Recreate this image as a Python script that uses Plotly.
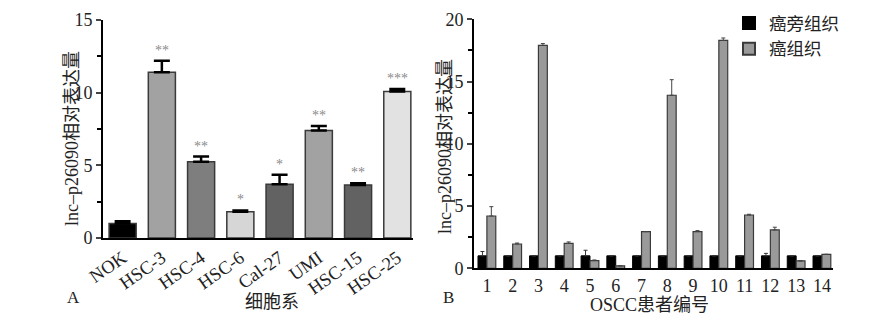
import plotly.graph_objects as go

# ---- Panel A data ----
cells = ["NOK", "HSC-3", "HSC-4", "HSC-6", "Cal-27", "UMI", "HSC-15", "HSC-25"]
cell_vals = [1.0, 11.4, 5.25, 1.8, 3.7, 7.4, 3.65, 10.08]
cell_errs = [0.15, 0.8, 0.35, 0.1, 0.65, 0.3, 0.12, 0.18]
cell_sig = ["", "**", "**", "*", "*", "**", "**", "***"]
cell_colors = ["#000000", "#a2a2a2", "#7e7e7e", "#d6d6d6", "#626262", "#a2a2a2", "#626262", "#e2e2e2"]

# ---- Panel B data ----
patients = [str(i) for i in range(1, 15)]
adjacent = [1.0] * 14
adjacent_err = [0.35, 0, 0, 0, 0.45, 0, 0, 0, 0, 0, 0, 0.2, 0, 0]
tumor = [4.2, 1.95, 17.9, 2.0, 0.62, 0.2, 2.95, 13.9, 2.95, 18.3, 4.28, 3.08, 0.6, 1.12]
tumor_err = [0.75, 0.08, 0.15, 0.12, 0.05, 0, 0, 1.25, 0.08, 0.2, 0.06, 0.22, 0, 0]

W, H = 892, 318
SERIF = "Liberation Serif, Times New Roman, Noto Sans CJK SC"

def px_x(p):
    return p / W

def px_y(p):
    return 1 - p / H

fig = go.Figure()

fig.add_trace(go.Bar(
    x=cells, y=cell_vals, xaxis="x", yaxis="y",
    marker=dict(color=cell_colors, line=dict(color="#3a3a3a", width=1.5)),
    error_y=dict(type="data", array=cell_errs, arrayminus=[0] * len(cell_errs),
                 symmetric=False, color="#000000", thickness=2.5, width=8),
    showlegend=False,
))

fig.add_trace(go.Bar(
    x=patients, y=adjacent, xaxis="x2", yaxis="y2", name="癌旁组织",
    marker=dict(color="#000000", line=dict(color="#000000", width=1)),
    error_y=dict(type="data", array=adjacent_err, arrayminus=[0] * 14,
                 symmetric=False, color="#333333", thickness=1, width=2),
))
fig.add_trace(go.Bar(
    x=patients, y=tumor, xaxis="x2", yaxis="y2", name="癌组织",
    marker=dict(color="#9a9a9a", line=dict(color="#3a3a3a", width=1.2)),
    error_y=dict(type="data", array=tumor_err, arrayminus=[0] * 14,
                 symmetric=False, color="#444444", thickness=1, width=2),
))

annotations = []
for c, v, e, s in zip(cells, cell_vals, cell_errs, cell_sig):
    if s:
        annotations.append(dict(x=c, y=v + e, xref="x", yref="y", text=s,
                                showarrow=False, xanchor="center", yanchor="bottom", yshift=1,
                                font=dict(family=SERIF, size=14, color="#8a8a8a")))

def label(x, y, text, angle=0, size=18):
    return dict(x=px_x(x), y=px_y(y), xref="paper", yref="paper", text=text,
                textangle=angle, showarrow=False, xanchor="center", yanchor="middle",
                font=dict(family=SERIF, size=size, color="#222"))

annotations += [
    label(72, 139, "lnc–p26090相对表达量", -90, 18),
    label(445, 147, "lnc–p26090相对表达量", -90, 18),
    label(272, 302, "细胞系"),
    label(649, 305, "OSCC患者编号"),
    label(73, 297, "A", size=17),
    label(448, 297, "B", size=17),
]

axis_common = dict(showline=True, linecolor="#000", linewidth=2, showgrid=False,
                   zeroline=False, tickfont=dict(family=SERIF, size=18, color="#222"))

fig.update_layout(
    width=W, height=H,
    margin=dict(l=0, r=0, t=0, b=0),
    paper_bgcolor="white", plot_bgcolor="white",
    barmode="group",
    bargap=0.31,
    showlegend=True,
    legend=dict(x=px_x(729), y=px_y(5), xanchor="left", yanchor="top",
                font=dict(family=SERIF, size=17.5, color="#222"),
                bgcolor="rgba(0,0,0,0)", tracegroupgap=0, itemwidth=30,
                itemsizing="constant"),
    xaxis=dict(domain=[px_x(103), px_x(413)], anchor="y", type="category",
               range=[-0.5, 7.4], ticks="", tickangle=-35, automargin=False,
               **{k: v for k, v in axis_common.items() if k != "tickfont"},
               tickfont=dict(family=SERIF, size=18.5, color="#222")),
    yaxis=dict(domain=[px_y(238), px_y(20)], anchor="x", range=[0, 15],
               tickvals=[0, 5, 10, 15], ticks="outside", ticklen=5, tickwidth=2,
               minor=dict(tickvals=[2.5, 7.5, 12.5], ticks="outside", ticklen=4, tickwidth=1.5, tickcolor="#000"),
               automargin=False, **axis_common),
    xaxis2=dict(domain=[px_x(474), px_x(833)], anchor="y2", type="category",
                range=[-0.5, 13.43], ticks="", automargin=False, ticklabelstandoff=0,
                **axis_common),
    yaxis2=dict(domain=[px_y(268.3), px_y(19.3)], anchor="x2", range=[0, 20],
                tickvals=[0, 5, 10, 15, 20], ticks="outside", ticklen=5, tickwidth=2,
                minor=dict(tickvals=[2.5, 7.5, 12.5, 17.5], ticks="outside", ticklen=4, tickwidth=1.5, tickcolor="#000"),
                automargin=False, **axis_common),
    annotations=annotations,
)

fig.write_html("out.html")
